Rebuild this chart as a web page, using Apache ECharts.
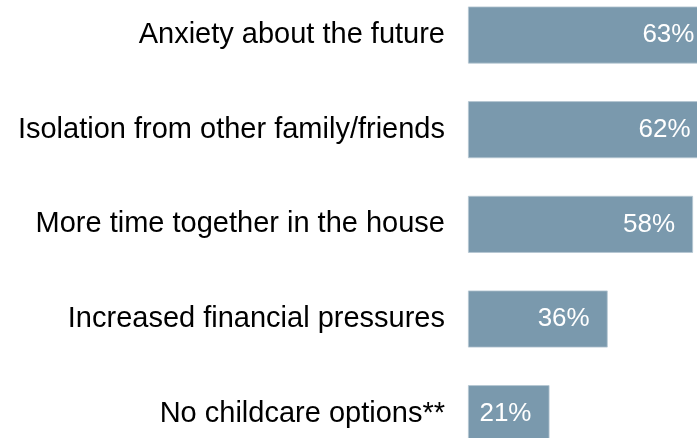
<!DOCTYPE html>
<html>
<head>
<meta charset="utf-8">
<script src="https://cdn.jsdelivr.net/npm/echarts@6/dist/echarts.min.js"></script>
<style>
html,body{margin:0;padding:0;background:#fff;}
#chart{width:697px;height:438px;}
</style>
</head>
<body>
<div id="chart"></div>
<script>
const categories = [
  "Anxiety about the future",
  "Isolation from other family/friends",
  "More time together in the house",
  "Increased financial pressures",
  "No childcare options**"
];
const values = [63, 62, 58, 36, 21];

const chart = echarts.init(document.getElementById('chart'), null, {renderer: 'canvas'});
chart.setOption({
  animation: false,
  backgroundColor: '#ffffff',
  grid: {left: 468, top: -12.3, width: 271.6, height: 473.3, containLabel: false, outerBoundsMode: 'none'},
  xAxis: {
    type: 'value', min: 0, max: 70,
    show: false
  },
  yAxis: {
    type: 'category',
    data: categories,
    inverse: true,
    axisLine: {show: false},
    axisTick: {show: false},
    splitLine: {show: false},
    axisLabel: {
      margin: 23,
      color: '#000000',
      fontFamily: 'Liberation Sans',
      fontSize: 29
    }
  },
  series: [{
    type: 'bar',
    data: values,
    barWidth: 57,
    clip: false,
    itemStyle: {color: '#7a99ad', borderColor: '#b5c6d2', borderWidth: 0.8},
    label: {
      show: true,
      position: 'insideRight',
      distance: 18,
      formatter: p => p.value + '%',
      color: '#ffffff',
      fontFamily: 'Liberation Sans',
      fontSize: 26
    }
  }]
});
</script>
</body>
</html>
